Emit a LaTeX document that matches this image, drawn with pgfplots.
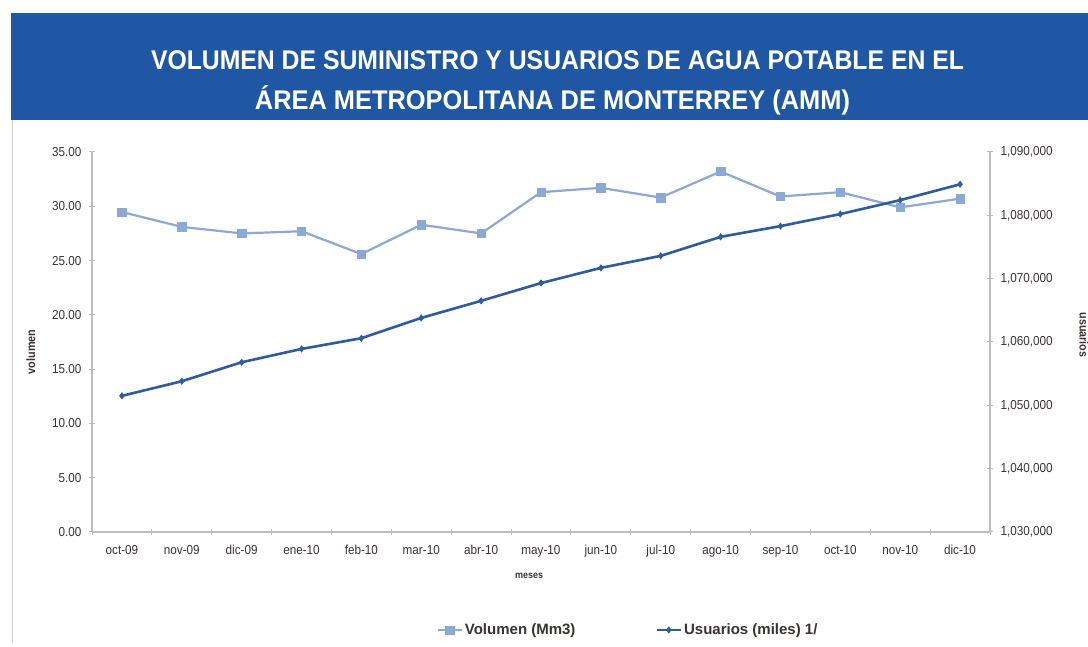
\documentclass[border=0pt]{standalone}
\usepackage{pgfplots}
\pgfplotsset{compat=1.18}
\usepackage{fontspec}
\setmainfont{Liberation Sans}[FakeStretch=0.9]
\newfontfamily\legfont{Liberation Sans}
\definecolor{banner}{RGB}{31,87,165}
\definecolor{volc}{RGB}{140,168,212}
\definecolor{usuc}{RGB}{46,92,158}
\definecolor{txt}{RGB}{60,50,50}
\definecolor{axc}{RGB}{190,190,190}

\pgfplotstableread{
x vol
0 29.47
1 28.1
2 27.5
3 27.7
4 25.6
5 28.3
6 27.5
7 31.3
8 31.7
9 30.8
10 33.2
11 30.9
12 31.3
13 29.9
14 30.7
}\voltable

\pgfplotstableread{
x usu
0 1051500
1 1053800
2 1056800
3 1058900
4 1060600
5 1063800
6 1066500
7 1069300
8 1071700
9 1073600
10 1076600
11 1078300
12 1080200
13 1082400
14 1084900
}\usutable

\begin{document}
\begin{tikzpicture}
\fill[white] (0pt,0pt) rectangle (1088pt,647pt);
\fill[banner] (11pt,527pt) rectangle (1088pt,634pt);
\draw[axc!80, line width=1.2pt] (12.5pt,527pt) -- (12.5pt,4pt);
\node[white, font=\fontsize{27}{27}\selectfont\bfseries, anchor=base, inner sep=0] at (557.5pt,577pt)
  {\resizebox{813pt}{\height}{VOLUMEN DE SUMINISTRO Y USUARIOS DE AGUA POTABLE EN EL}};
\node[white, font=\fontsize{27}{27}\selectfont\bfseries, anchor=base, inner sep=0] at (552.5pt,537pt)
  {\resizebox{595pt}{\height}{ÁREA METROPOLITANA DE MONTERREY (AMM)}};
\node[font=\fontsize{12}{12}\selectfont\bfseries, text=txt, rotate=-90] at (1084pt,312pt) {usuarios};

\begin{axis}[
  at={(92pt,115pt)}, anchor=south west,
  scale only axis, width=898pt, height=380pt,
  xmin=-0.5, xmax=14.5, ymin=0, ymax=35,
  axis lines*=left,
  axis line style={axc, line width=1.3pt},
  xtick={0,...,14},
  xticklabels={oct-09,nov-09,dic-09,ene-10,feb-10,mar-10,abr-10,may-10,jun-10,jul-10,ago-10,sep-10,oct-10,nov-10,dic-10},
  major x tick style={draw=none},
  minor xtick={-0.5,0.5,...,14.5},
  minor tick length=6pt,
  minor x tick style={axc, line width=1pt},
  tick align=center,
  ytick={0,5,...,35},
  major tick length=6pt,
  y tick style={axc, line width=1pt},
  /pgf/number format/fixed,
  /pgf/number format/fixed zerofill,
  /pgf/number format/precision=2,
  /pgf/number format/assume math mode=true,
  ticklabel style={font=\fontsize{13}{13}\selectfont, text=txt},
  xticklabel style={yshift=-7pt},
  yticklabel style={xshift=-4pt},
  ylabel={volumen},
  ylabel style={font=\fontsize{12}{12}\selectfont\bfseries, text=txt, yshift=10pt, xshift=-10pt},
  clip=false,
]
\addplot[volc, line width=2.2pt, mark=square*, mark size=4.2pt, mark options={fill=volc, draw=volc, line width=0.5pt}] table[x=x, y=vol] {\voltable};
\node[font=\fontsize{10}{10}\selectfont\bfseries, text=txt] at (axis cs:6.8,0) [yshift=-44pt] {meses};
\end{axis}

\begin{axis}[
  at={(92pt,115pt)}, anchor=south west,
  scale only axis, width=898pt, height=380pt,
  xmin=-0.5, xmax=14.5, ymin=1030000, ymax=1090000,
  axis x line=none,
  axis y line*=right,
  axis line style={axc, line width=1.3pt},
  ytick={1030000,1040000,...,1090000},
  tick align=center,
  major tick length=6pt,
  y tick style={axc, line width=1pt},
  /pgf/number format/fixed,
  /pgf/number format/precision=0,
  /pgf/number format/1000 sep={,},
  /pgf/number format/assume math mode=true,
  scaled y ticks=false,
  ticklabel style={font=\fontsize{13}{13}\selectfont, text=txt},
  yticklabel style={xshift=4pt},
  clip=false,
  legend style={at={(0.597,-0.258)}, anchor=center, draw=none, fill=none, legend columns=2,
    font=\legfont\fontsize{15}{15}\selectfont\bfseries, text=txt,
    /tikz/every even column/.append style={column sep=78pt}},
  legend cell align=left,
  legend image code/.code={\draw[mark repeat=2, mark phase=2, #1] plot coordinates {(0pt,0pt) (12pt,0pt) (24pt,0pt)};},
]
\addlegendimage{volc, line width=2.2pt, mark=square*, mark size=4.2pt, mark options={fill=volc, draw=volc, line width=0.5pt}}
\addlegendentry{Volumen (Mm3)}
\addplot[usuc, line width=2.6pt, mark=diamond*, mark size=3.2pt, mark options={fill=usuc, draw=usuc, line width=0.5pt}] table[x=x, y=usu] {\usutable};
\addlegendentry{Usuarios (miles) 1/}
\end{axis}
\pgfresetboundingbox
\path[use as bounding box] (0pt,0pt) rectangle (1088pt,647pt);
\end{tikzpicture}
\end{document}
